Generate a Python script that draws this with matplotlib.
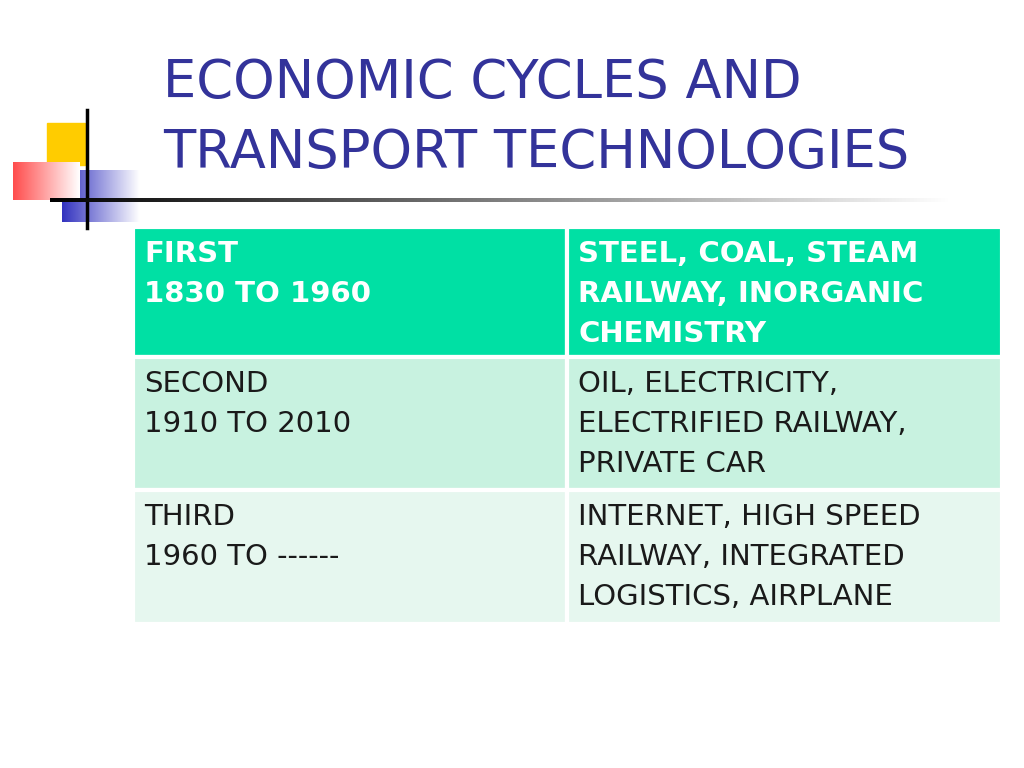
import matplotlib
matplotlib.use("Agg")
import matplotlib.pyplot as plt
import numpy as np
from matplotlib.patches import Rectangle

title_lines = ["ECONOMIC CYCLES AND", "TRANSPORT TECHNOLOGIES"]
col1 = [["FIRST", "1830 TO 1960"], ["SECOND", "1910 TO 2010"], ["THIRD", "1960 TO ------"]]
col2 = [["STEEL, COAL, STEAM", "RAILWAY, INORGANIC", "CHEMISTRY"],
        ["OIL, ELECTRICITY,", "ELECTRIFIED RAILWAY,", "PRIVATE CAR"],
        ["INTERNET, HIGH SPEED", "RAILWAY, INTEGRATED", "LOGISTICS, AIRPLANE"]]
row_colors = ["#00e0a4", "#c8f2e0", "#e6f7ef"]

fig = plt.figure(figsize=(10.24, 7.68), dpi=100)
ax = fig.add_axes([0, 0, 1, 1])
ax.set_xlim(0, 1024); ax.set_ylim(768, 0); ax.axis("off")

# logo
ax.add_patch(Rectangle((47, 123), 38, 42, color="#ffcc00", zorder=2))
grad = np.linspace(0, 1, 100).reshape(1, -1)
ax.imshow(np.dstack([np.ones_like(grad), 0.3 + 0.7*grad, 0.3 + 0.7*grad]),
          extent=(13, 80, 200, 162), aspect="auto", zorder=3)
ax.imshow(np.dstack([0.2 + 0.8*grad, 0.2 + 0.8*grad, 0.75 + 0.25*grad]),
          extent=(62, 140, 222, 170), aspect="auto", zorder=1)
ax.plot([87, 87], [110, 228], color="black", lw=2.5, zorder=4)
lg = np.linspace(0, 1, 300).reshape(1, -1)
ax.imshow(np.dstack([lg, lg, lg]), extent=(50, 950, 202, 198), aspect="auto", zorder=4)

# title
for i, t in enumerate(title_lines):
    ax.text(163, 83 + i*70, t, fontsize=38, color="#33339a", family="DejaVu Sans",
            va="center", ha="left")

# table
xs = [133, 567, 1002]
ys = [227, 357, 490, 624]
for r in range(3):
    for c in range(2):
        ax.add_patch(Rectangle((xs[c], ys[r]), xs[c+1]-xs[c], ys[r+1]-ys[r],
                               facecolor=row_colors[r], edgecolor="white", lw=3, zorder=2))
    lines_sets = [col1[r], col2[r]]
    for c in range(2):
        for k, line in enumerate(lines_sets[c]):
            ax.text(xs[c] + 11, ys[r] + 27 + k*40, line, fontsize=21,
                    color="white" if r == 0 else "#1a1a1a",
                    weight="bold" if r == 0 else "normal",
                    family="DejaVu Sans", va="center", ha="left", zorder=3)

fig.savefig("out.png", dpi=100)
